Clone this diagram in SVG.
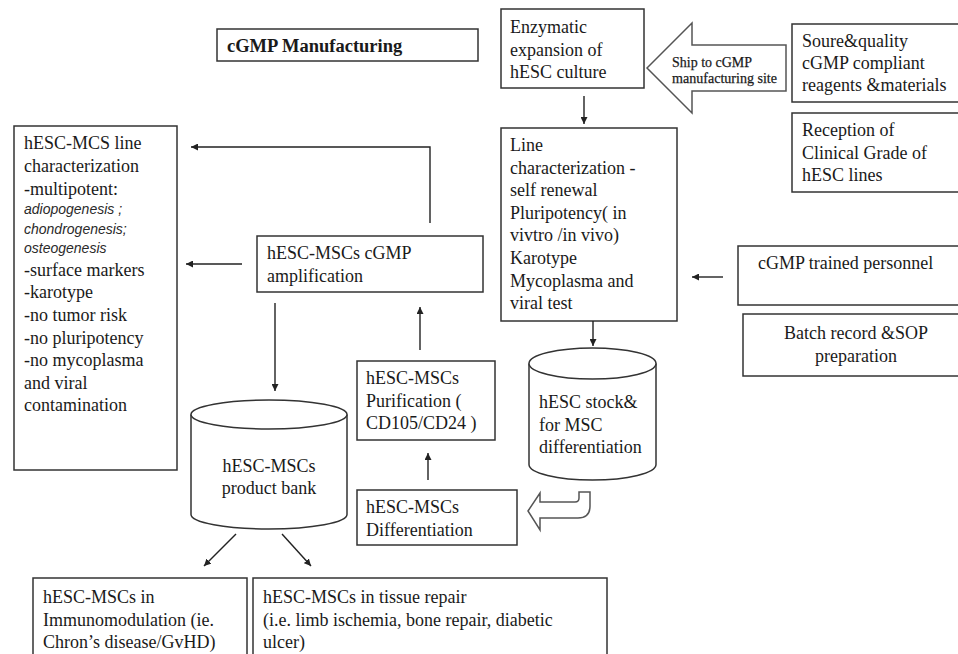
<svg xmlns="http://www.w3.org/2000/svg" width="958" height="654" viewBox="0 0 958 654">
<defs>
<style>
.box{fill:#fff;stroke:#333;stroke-width:1.5}
.t{font-family:"Liberation Serif","Times New Roman",serif;font-size:18px;fill:#1a1a1a}
.it{font-family:"Liberation Sans",Arial,sans-serif;font-style:italic;font-size:14px;fill:#2a2a2a}
.hd{font-family:"Liberation Serif","Times New Roman",serif;font-size:18.5px;font-weight:bold;fill:#1a1a1a}
.sm{font-family:"Liberation Serif","Times New Roman",serif;font-size:15px;fill:#1a1a1a;stroke:#1a1a1a;stroke-width:0.25}
.ln{fill:none;stroke:#222;stroke-width:1.4}
.big{fill:#fff;stroke:#555;stroke-width:1.5;stroke-linejoin:miter}
</style>
<marker id="ah" viewBox="0 0 10 10" refX="10" refY="5" markerWidth="7" markerHeight="7" markerUnits="userSpaceOnUse" orient="auto">
<path d="M0,0 L10,5 L0,10 Z" fill="#222"/>
</marker>
</defs>
<rect width="958" height="654" fill="#fff"/>

<g id="title">
<rect class="box" x="217" y="29" width="261" height="32"/>
<text class="hd" x="227" y="52">cGMP Manufacturing</text>
</g>

<g id="enzymatic">
<rect class="box" x="501" y="9" width="143" height="79"/>
<text class="t" x="510" y="33">Enzymatic</text>
<text class="t" x="510" y="55.5">expansion of</text>
<text class="t" x="510" y="78">hESC culture</text>
</g>

<g id="ship">
<path class="big" d="M647,68 L692,23 L692,45 L786,45 L786,91 L692,91 L692,113 Z"/>
<text class="sm" x="672" y="67" textLength="80" lengthAdjust="spacingAndGlyphs">Ship to cGMP</text>
<text class="sm" x="672" y="83" textLength="105" lengthAdjust="spacingAndGlyphs">manufacturing site</text>
</g>

<g id="source">
<rect class="box" x="792" y="24" width="180" height="78"/>
<text class="t" x="802" y="47">Soure&amp;quality</text>
<text class="t" x="802" y="69">cGMP compliant</text>
<text class="t" x="802" y="91">reagents  &amp;materials</text>
</g>

<g id="reception">
<rect class="box" x="792" y="113" width="180" height="79"/>
<text class="t" x="802" y="136">Reception of</text>
<text class="t" x="802" y="158.5">Clinical  Grade of</text>
<text class="t" x="802" y="181">hESC lines</text>
</g>

<g id="linechar">
<rect class="box" x="501" y="128" width="176" height="193"/>
<text class="t" x="510" y="151">Line</text>
<text class="t" x="510" y="173.6">characterization  -</text>
<text class="t" x="510" y="196.2">self renewal</text>
<text class="t" x="510" y="218.8">Pluripotency( in</text>
<text class="t" x="510" y="241.4">vivtro /in vivo)</text>
<text class="t" x="510" y="264">Karotype</text>
<text class="t" x="510" y="286.6">Mycoplasma and</text>
<text class="t" x="510" y="309.2">viral  test</text>
</g>

<g id="personnel">
<rect class="box" x="738" y="246" width="234" height="59"/>
<text class="t" x="758" y="269">cGMP trained  personnel</text>
</g>

<g id="batch">
<rect class="box" x="743" y="314" width="229" height="62"/>
<text class="t" x="856" y="339" text-anchor="middle">Batch record &amp;SOP</text>
<text class="t" x="856" y="362" text-anchor="middle">preparation</text>
</g>

<g id="stock">
<path class="box" d="M529,363.5 L529,464.5 A63.5,15.5 0 0 0 656,464.5 L656,363.5"/>
<ellipse class="box" cx="592.5" cy="363.5" rx="63.5" ry="15.5"/>
<text class="t" x="539" y="408">hESC stock&amp;</text>
<text class="t" x="539" y="430.5">for MSC</text>
<text class="t" x="539" y="453">differentiation</text>
</g>

<g id="uturn">
<path class="big" d="M528,511 L540,493 L540,502 L575,502 Q579,502 579,498 L579,492 L590,492 L590,506 Q590,518 578,518 L540,518 L540,530 Z"/>
</g>

<g id="characterization">
<rect class="box" x="14" y="126" width="163" height="344"/>
<text class="t" x="24" y="149">hESC-MCS line</text>
<text class="t" x="24" y="172">characterization</text>
<text class="t" x="24" y="194.5">-multipotent:</text>
<text class="it" x="24" y="214">adiopogenesis  ;</text>
<text class="it" x="24" y="233.5">chondrogenesis;</text>
<text class="it" x="24" y="253">osteogenesis</text>
<text class="t" x="24" y="275.5">-surface markers</text>
<text class="t" x="24" y="298">-karotype</text>
<text class="t" x="24" y="321">-no tumor risk</text>
<text class="t" x="24" y="343.5">-no pluripotency</text>
<text class="t" x="24" y="366">-no mycoplasma</text>
<text class="t" x="24" y="388.5">and viral</text>
<text class="t" x="24" y="411">contamination</text>
</g>

<g id="amplification">
<rect class="box" x="257" y="236" width="226" height="56"/>
<text class="t" x="267" y="259">hESC-MSCs cGMP</text>
<text class="t" x="267" y="281.5">amplification</text>
</g>

<g id="purification">
<rect class="box" x="357" y="361" width="138" height="79"/>
<text class="t" x="366" y="384">hESC-MSCs</text>
<text class="t" x="366" y="406.5">Purification  (</text>
<text class="t" x="366" y="429">CD105/CD24  )</text>
</g>

<g id="differentiation">
<rect class="box" x="357" y="490" width="160" height="55"/>
<text class="t" x="366" y="513">hESC-MSCs</text>
<text class="t" x="366" y="535.5">Differentiation</text>
</g>

<g id="productbank">
<path class="box" d="M191,414.5 L191,514.5 A78,14.5 0 0 0 347,514.5 L347,414.5"/>
<ellipse class="box" cx="269" cy="414.5" rx="78" ry="14.5"/>
<text class="t" x="269" y="471.5" text-anchor="middle">hESC-MSCs</text>
<text class="t" x="269" y="493.5" text-anchor="middle">product bank</text>
</g>

<g id="immuno">
<rect class="box" x="33" y="578" width="214" height="95"/>
<text class="t" x="43" y="603">hESC-MSCs in</text>
<text class="t" x="43" y="625.5">Immunomodulation  (ie.</text>
<text class="t" x="43" y="648">Chron’s disease/GvHD)</text>
</g>

<g id="tissue">
<rect class="box" x="253" y="578" width="354" height="95"/>
<text class="t" x="263" y="603">hESC-MSCs in tissue repair</text>
<text class="t" x="263" y="625.5">(i.e.  limb ischemia,  bone repair,  diabetic</text>
<text class="t" x="263" y="648">ulcer)</text>
</g>

<g id="connectors">
<path class="ln" d="M584,96 L584,124" marker-end="url(#ah)"/>
<path class="ln" d="M593,321 L593,346" marker-end="url(#ah)"/>
<path class="ln" d="M723,277 L692,277" marker-end="url(#ah)"/>
<path class="ln" d="M430,223 L430,147 L191,147" marker-end="url(#ah)"/>
<path class="ln" d="M242,264 L186,264" marker-end="url(#ah)"/>
<path class="ln" d="M275,303 L275,391" marker-end="url(#ah)"/>
<path class="ln" d="M420,350 L420,307" marker-end="url(#ah)"/>
<path class="ln" d="M428,480 L428,453" marker-end="url(#ah)"/>
<path class="ln" d="M236,534 L204,566" marker-end="url(#ah)"/>
<path class="ln" d="M282,534 L311,566" marker-end="url(#ah)"/>
</g>
</svg>
